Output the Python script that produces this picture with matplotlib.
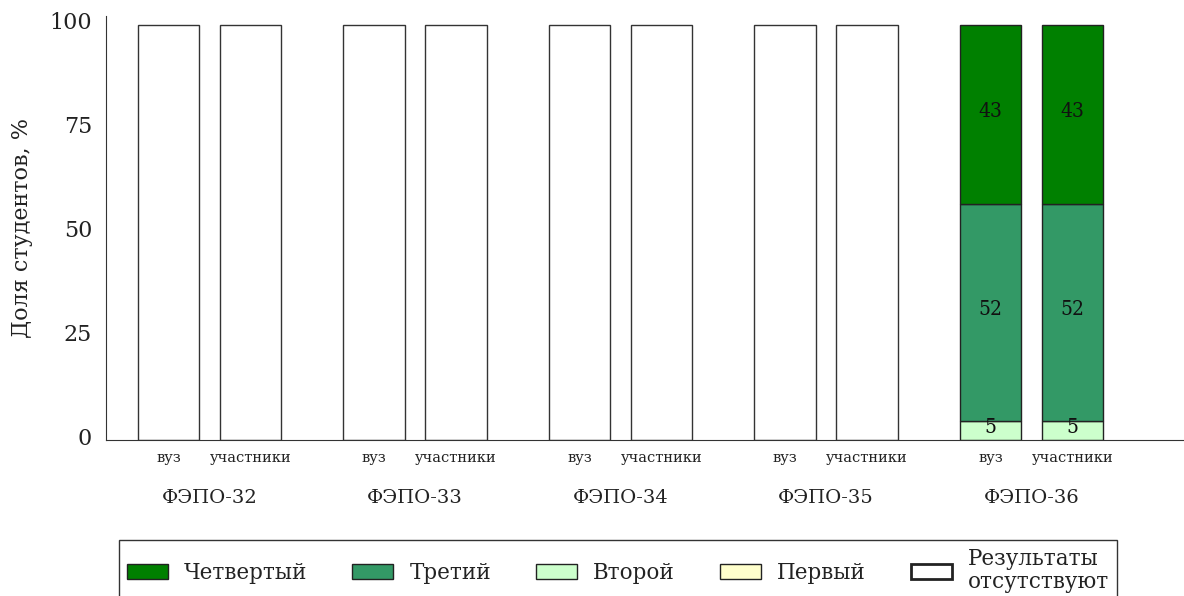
import numpy as np
import matplotlib
matplotlib.use("Agg")
import matplotlib.pyplot as plt
import matplotlib.transforms as mtransforms
from matplotlib.patches import Patch
from matplotlib import font_manager

plt.rcParams['font.family'] = ['DejaVu Serif']

groups = ["ФЭПО-32", "ФЭПО-33", "ФЭПО-34", "ФЭПО-35", "ФЭПО-36"]
sub_labels = ["вуз", "участники"]
levels = ["Четвертый", "Третий", "Второй", "Первый"]
level_colors = ["#008000", "#339966", "#ccffcc", "#ffffcc"]

# shares per group: [вуз, участники]; None means no results
first = [None, None, None, None, [0.0, 0.0]]
second = [None, None, None, None, [4.7, 4.7]]
third = [None, None, None, None, [52.1, 52.1]]
fourth = [None, None, None, None, [43.2, 43.2]]
empty_height = 100

names = {f.name for f in font_manager.fontManager.ttflist}
cond_family = ['DejaVu Serif Condensed', 'DejaVu Serif'] if 'DejaVu Serif Condensed' in names else ['DejaVu Serif']
cond = dict(family=cond_family, stretch='condensed')

fig = plt.figure(figsize=(11.84, 5.96), dpi=100)
ax = fig.add_axes([0.0895, 0.2617, 0.9105, 0.711])

offsets = [-0.2, 0.2]
width = 0.3

for gi, g in enumerate(groups):
    for si in range(2):
        x = gi + offsets[si]
        if fourth[gi] is None:
            ax.bar(x, empty_height, width, color='white', edgecolor='#333333', linewidth=1)
            continue
        bottom = 0
        for vals, col in zip([first, second, third, fourth], level_colors[::-1]):
            v = vals[gi][si]
            if v <= 0:
                continue
            ax.bar(x, v, width, bottom=bottom, color=col, edgecolor='#222222', linewidth=1)
            ax.annotate(str(int(round(v))), (x, bottom + v / 2), xytext=(0, 3),
                        textcoords='offset pixels', ha='center', va='center',
                        fontsize=15, color='#111111', **cond)
            bottom += v

for gi, g in enumerate(groups):
    for si in range(2):
        ax.text(gi + offsets[si], -0.042, sub_labels[si], transform=ax.get_xaxis_transform(),
                ha='center', va='center', fontsize=10.5, color='#222222')
    ax.text(gi, -0.137, g, transform=ax.get_xaxis_transform(),
            ha='center', va='center', fontsize=14, color='#222222')

ax.set_xlim(-0.504, 4.742)
ax.set_ylim(0, 102)
ax.set_xticks([])
ax.set_yticks([0, 25, 50, 75, 100])
ax.tick_params(axis='y', length=0, labelsize=16, pad=10, labelcolor='#222222')
shift = mtransforms.ScaledTranslation(0, 4 / 100, fig.dpi_scale_trans)
for lab in ax.get_yticklabels():
    lab.set_transform(lab.get_transform() + shift)
ax.set_ylabel("Доля студентов, %", fontsize=16, labelpad=12, color='#222222')
for s in ['top', 'right']:
    ax.spines[s].set_visible(False)
for s in ['left', 'bottom']:
    ax.spines[s].set_color('#333333')

handles = [Patch(facecolor=c, edgecolor='#222222') for c in level_colors]
handles.append(Patch(facecolor='white', edgecolor='#222222', linewidth=2))
labels = levels + ["Результаты\nотсутствуют"]
leg = fig.legend(handles, labels, loc='upper center', bbox_to_anchor=(0.522, 0.094),
                 ncol=5, frameon=True, fancybox=False, edgecolor='black',
                 prop=dict(size=15.5, family='DejaVu Serif'), handlelength=1.9,
                 handletextpad=0.75, columnspacing=2.1,
                 borderpad=0.35, borderaxespad=0)
for t in leg.get_texts():
    t.set_linespacing(1.1)
    t.set_color('#222222')
leg.get_frame().set_linewidth(1)

fig.savefig("out.png", dpi=100)
